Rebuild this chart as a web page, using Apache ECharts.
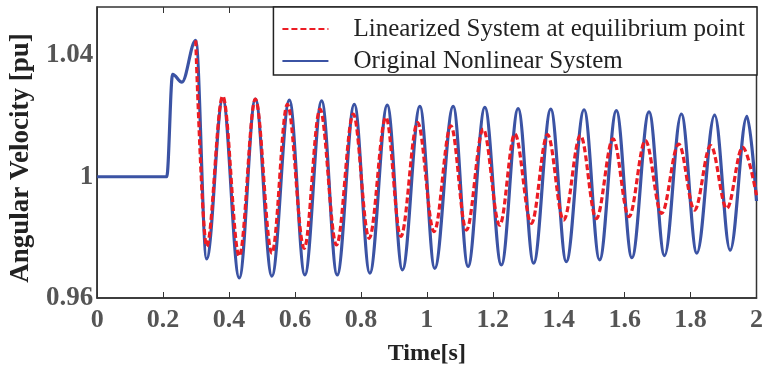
<!DOCTYPE html>
<html>
<head>
<meta charset="utf-8">
<script src="https://cdn.jsdelivr.net/npm/echarts@6/dist/echarts.min.js"></script>
<style>
  html, body { margin: 0; padding: 0; background: #fff; }
  #chart { width: 766px; height: 371px; }
</style>
</head>
<body>
<div id="chart"></div>
<script>
// extrema (t in s, angular velocity in pu)
const blueTime = [0, 0.211, 0.229, 0.257, 0.299,
    0.332, 0.381, 0.431, 0.480, 0.530, 0.583, 0.630, 0.681, 0.728, 0.780,
    0.827, 0.880, 0.926, 0.979, 1.024, 1.080, 1.125, 1.176, 1.226, 1.277,
    1.324, 1.376, 1.423, 1.477, 1.524, 1.575, 1.622, 1.674, 1.721, 1.772,
    1.819, 1.873, 1.920, 1.971, 2.0];
const blueVal = [1, 1, 1.0338, 1.0312, 1.0450,
    0.9729, 1.0256, 0.9666, 1.0256, 0.9672, 1.0253, 0.9676, 1.0250, 0.9676, 1.0239,
    0.9682, 1.0236, 0.9693, 1.0232, 0.9698, 1.0232, 0.9704, 1.0229, 0.9709, 1.0225,
    0.9715, 1.0223, 0.9720, 1.0221, 0.9726, 1.0218, 0.9733, 1.0214, 0.9740, 1.0207,
    0.9748, 1.0203, 0.9758, 1.0199, 0.9920];

const redTime = [0.299,
    0.332, 0.381, 0.431, 0.480, 0.530, 0.577, 0.628, 0.676, 0.726, 0.777,
    0.825, 0.876, 0.921, 0.972, 1.022, 1.073, 1.120, 1.171, 1.221, 1.267,
    1.317, 1.366, 1.415, 1.466, 1.514, 1.565, 1.613, 1.663, 1.712, 1.764,
    1.812, 1.861, 1.910, 1.958, 2.0];
const redVal = [1.0450,
    0.9770, 1.0266, 0.9738, 1.0256, 0.9748, 1.0239, 0.9764, 1.0223, 0.9775, 1.0207,
    0.9797, 1.0196, 0.9803, 1.0179, 0.9819, 1.0168, 0.9824, 1.0157, 0.9840, 1.0141,
    0.9846, 1.0139, 0.9857, 1.0136, 0.9862, 1.0125, 0.9868, 1.0119, 0.9879, 1.0108,
    0.9890, 1.0103, 0.9895, 1.0097, 0.9939];

const xTicks = { min: 0, max: 2, step: 0.2 };
const yTicks = { min: 0.96, max: 1.056, step: 0.04 };

const nameRed = 'Linearized System at equilibrium point';
const nameBlue = 'Original Nonlinear System';

const zip = (a, b) => a.map((t, i) => [t, b[i]]);

const serif = 'Liberation Serif';
const axisColor = '#333';

const myChart = echarts.init(document.getElementById('chart'));
myChart.setOption({
    animation: false,
    grid: {
        left: 97, right: 9, top: 7, bottom: 71,
        show: true, borderColor: axisColor, borderWidth: 1.5
    },
    legend: {
        data: [nameRed, nameBlue],
        orient: 'vertical',
        right: 9, top: 7,
        backgroundColor: '#fff',
        borderColor: '#222', borderWidth: 1.5,
        padding: [8, 12, 0, 8],
        itemWidth: 46, itemHeight: 14, itemGap: 4,
        textStyle: { fontFamily: serif, fontSize: 25, color: '#222', lineHeight: 28, padding: [0, 0, 0, 20] }
    },
    xAxis: [{
        type: 'value',
        min: xTicks.min, max: xTicks.max, interval: xTicks.step,
        name: 'Time[s]', nameLocation: 'middle', nameGap: 44,
        nameTextStyle: { fontFamily: serif, fontSize: 24, fontWeight: 'bold', color: '#222' },
        axisLine: { show: true, lineStyle: { color: axisColor, width: 1.5 } },
        axisTick: { show: true, inside: true, length: 6, lineStyle: { color: axisColor } },
        axisLabel: { fontFamily: serif, fontSize: 26, fontWeight: 'bold', color: '#555', margin: 9 },
        splitLine: { show: false }
    }, {
        type: 'value', position: 'top',
        min: xTicks.min, max: xTicks.max, interval: xTicks.step,
        axisLine: { show: false },
        axisTick: { show: true, inside: true, length: 6, lineStyle: { color: axisColor } },
        axisLabel: { show: false },
        splitLine: { show: false }
    }],
    yAxis: {
        type: 'value',
        min: yTicks.min, max: yTicks.max, interval: yTicks.step,
        name: 'Angular Velocity [pu]', nameLocation: 'middle', nameGap: 57,
        nameTextStyle: { fontFamily: serif, fontSize: 27, fontWeight: 'bold', color: '#222', padding: [0, 11, 0, 0] },
        axisLine: { show: true, lineStyle: { color: axisColor, width: 1.5 } },
        axisTick: { show: false },
        axisLabel: {
            fontFamily: serif, fontSize: 27, fontWeight: 'bold', color: '#555', margin: 4,
            showMaxLabel: false,
            formatter: (v) => String(+v.toFixed(2))
        },
        splitLine: { show: false }
    },
    series: [{
        name: nameBlue,
        type: 'line',
        data: zip(blueTime, blueVal),
        symbol: 'none',
        smooth: 0.36,
        smoothMonotone: 'x',
        lineStyle: { color: '#3b53a4', width: 3.2 },
        itemStyle: { color: 'rgba(0,0,0,0)' }
    }, {
        name: nameRed,
        type: 'line',
        data: zip(redTime, redVal),
        symbol: 'none',
        smooth: 0.36,
        smoothMonotone: 'x',
        lineStyle: { color: '#ec1c24', width: 3.2, type: [6, 3] },
        itemStyle: { color: 'rgba(0,0,0,0)' }
    }]
});
</script>
</body>
</html>
